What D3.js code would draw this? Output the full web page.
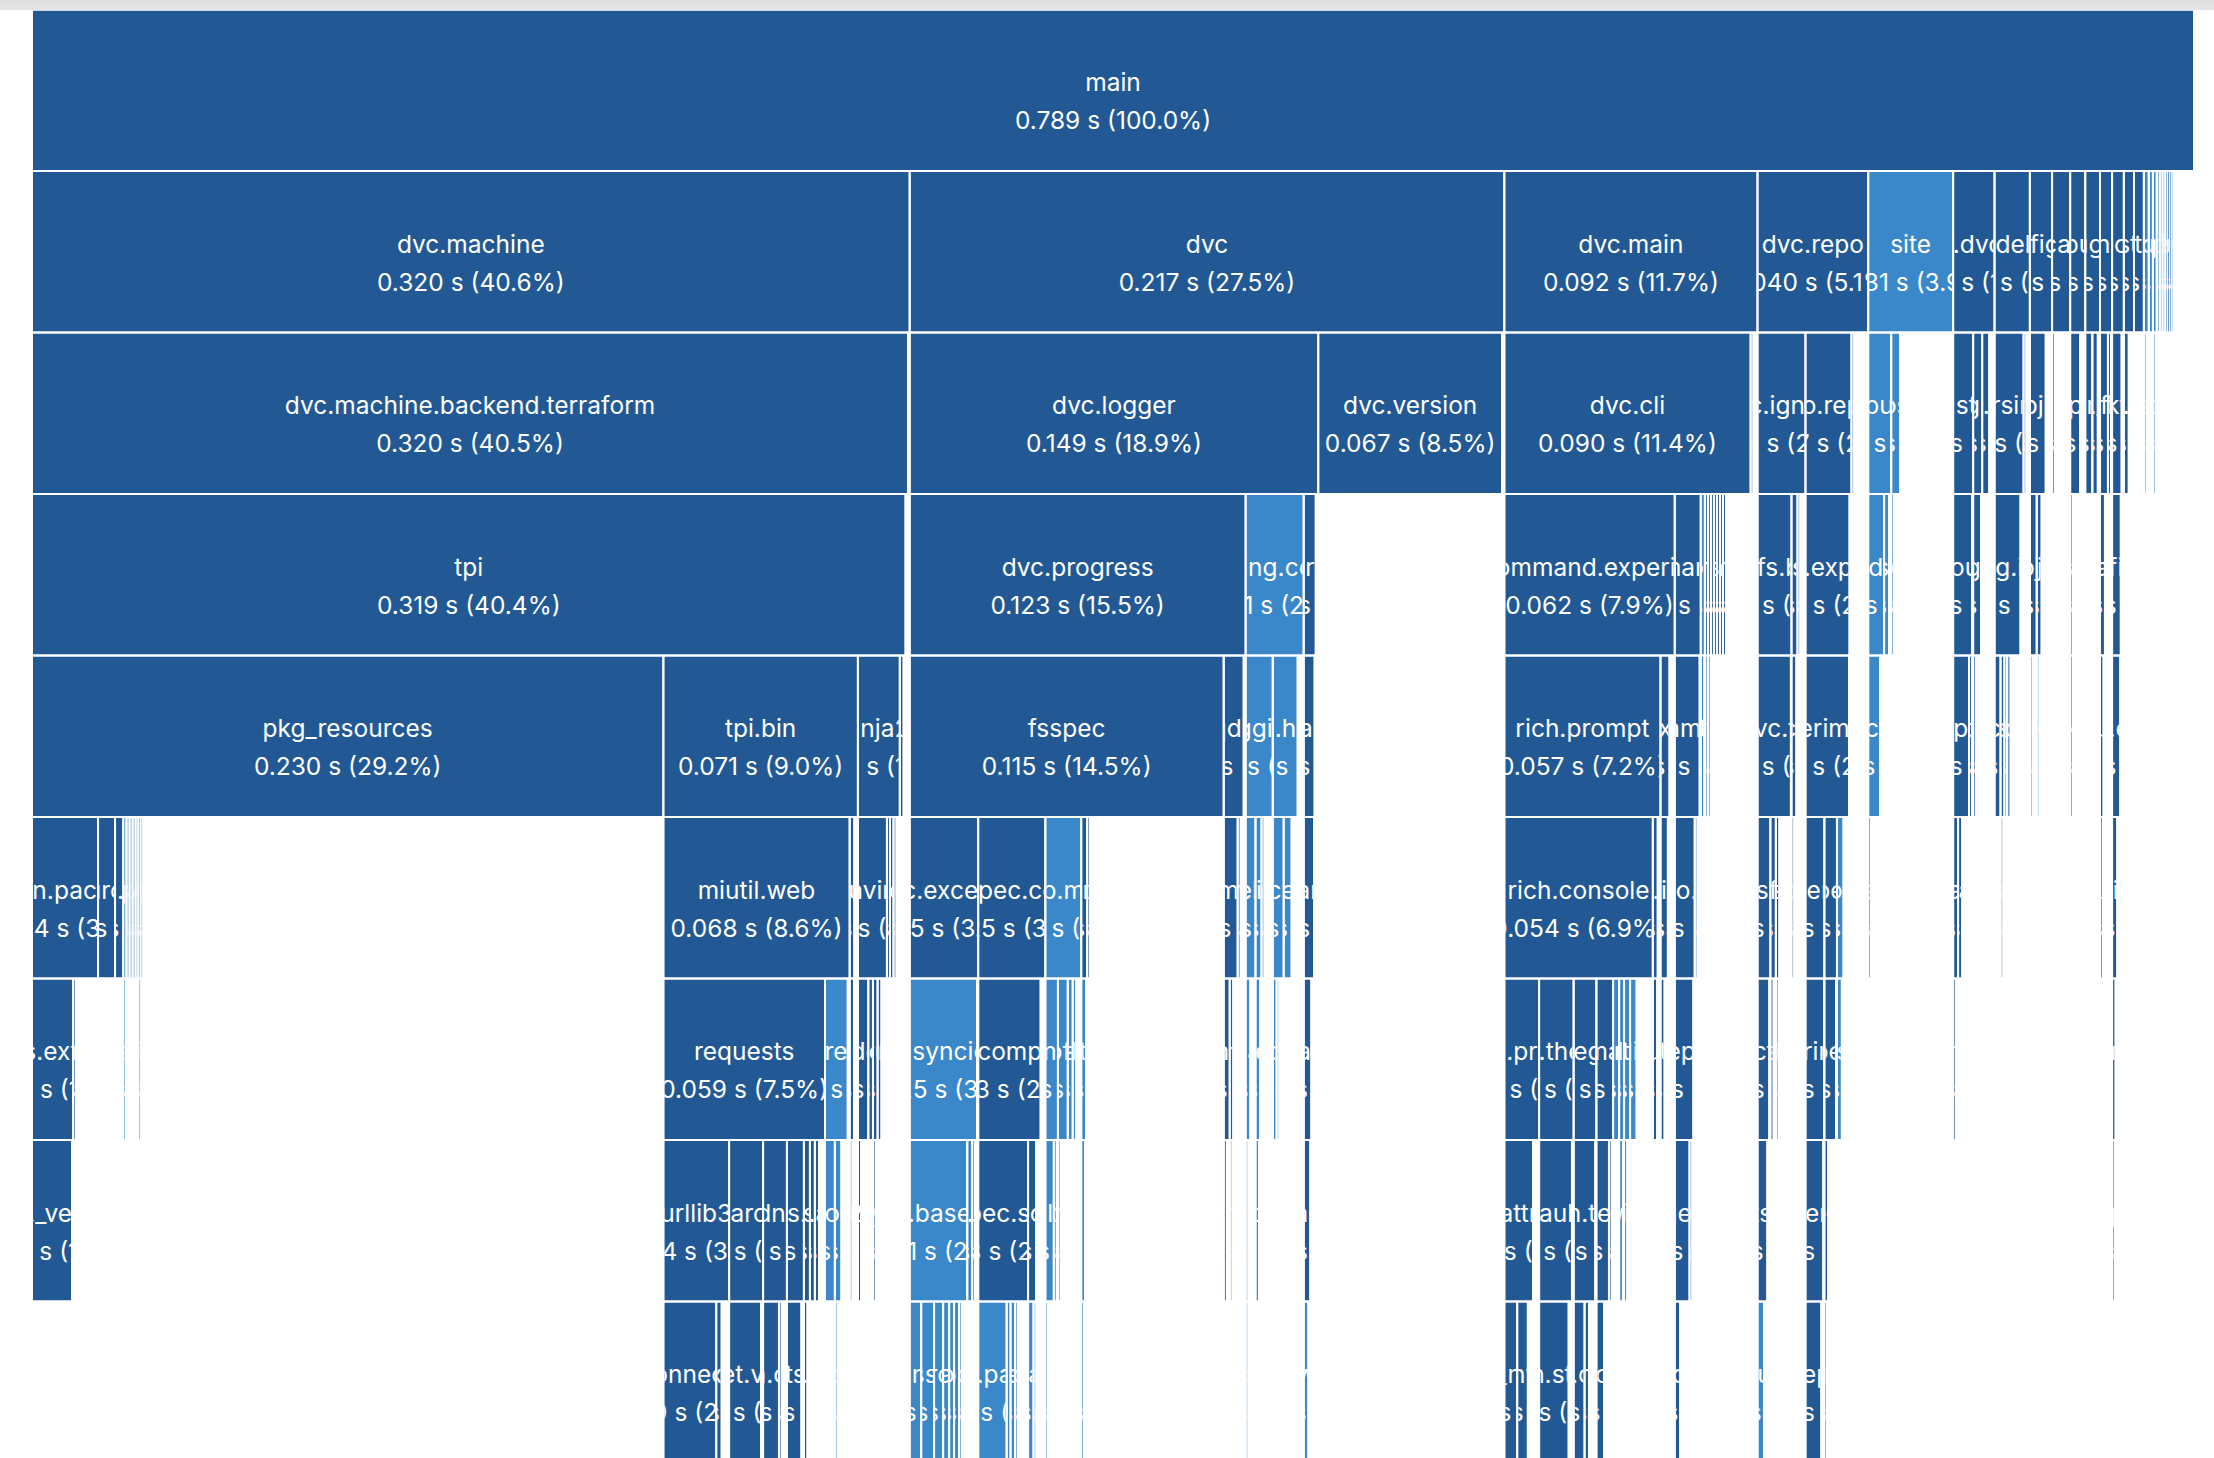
<!DOCTYPE html>
<html>
<head>
<meta charset="utf-8">
<script src="https://cdn.jsdelivr.net/npm/d3@7"></script>
<style>
  html, body { margin: 0; padding: 0; background: #fff; overflow: hidden; }
  text { font-family: Inter, "Open Sans", "DejaVu Sans", sans-serif; fill: #fff; }
</style>
</head>
<body>
<script>
// import profile (tuna style icicle): [module, imported by, cumulative seconds, D = third party / L = stdlib]
const rootName = "main";
const rootTime = 0.789;

const level1 = [
  ["dvc.machine", "main", 0.3203, "D"],
  ["dvc", "main", 0.2170, "D"],
  ["dvc.main", "main", 0.0924, "D"],
  ["dvc.repo", "main", 0.0404, "D"],
  ["site", "main", 0.0310, "L"],
  ["dvc.dvcfile", "main", 0.0151, "D"],
  ["dvc.model.collect", "main", 0.0129, "D"],
  ["configobj", "main", 0.0081, "D"],
  ["dvc.catalog", "main", 0.0066, "D"],
  ["dvc.output.layout", "main", 0.0055, "D"],
  ["pluggy", "main", 0.0054, "D"],
  ["grandalf", "main", 0.0044, "D"],
  ["zc.lockfile", "main", 0.0043, "D"],
  ["distro", "main", 0.0037, "D"],
  ["shtab", "main", 0.0036, "D"],
  ["json", "main", 0.0018, "L"],
  ["uuid", "main", 0.0015, "L"],
  ["tempfile", "main", 0.0014, "L"],
  ["getpass", "main", 0.0011, "L"],
  ["platform", "main", 0.0010, "L"],
  ["shlex", "main", 0.0009, "L"],
  ["ast", "main", 0.0008, "L"],
  ["psutil", "main", 0.0007, "D"],
  ["locale", "main", 0.0006, "L"],
  ["secrets", "main", 0.0006, "L"]
];

const level2 = [
  ["dvc.machine.backend.terraform", "dvc.machine", 0.3197, "D"],
  ["dvc.logger", "dvc", 0.1491, "D"],
  ["dvc.version", "dvc", 0.0671, "D"],
  ["dvc.cli", "dvc.main", 0.0899, "D"],
  ["dvc.cli.utils", "dvc.main", 0.0008, "D"],
  ["dvc.ignore", "dvc.repo", 0.0175, "D"],
  ["dvc.repo.reproduce", "dvc.repo", 0.0168, "D"],
  ["dvc.repo.scm_context", "dvc.repo", 0.0007, "D"],
  ["_sitebuiltins", "site", 0.0084, "L"],
  ["os", "site", 0.0033, "L"],
  ["dvc.stage", "dvc.dvcfile", 0.0073, "D"],
  ["dvc.stage.loader", "dvc.dvcfile", 0.0033, "D"],
  ["dvc.utils.serialize", "dvc.dvcfile", 0.0026, "D"],
  ["dvc.parsing.vars", "dvc.model.collect", 0.0106, "D"],
  ["dvc.parsing.context", "dvc.model.collect", 0.0007, "D"],
  ["configobj.validate", "configobj", 0.0058, "D"],
  ["dvc.catalog.base", "dvc.catalog", 0.0008, "D"],
  ["dvc.output.base", "dvc.output.layout", 0.0036, "D"],
  ["pluggy._manager", "pluggy", 0.0026, "D"],
  ["pluggy._hooks", "pluggy", 0.0020, "D"],
  ["grandalf.graphs", "grandalf", 0.0029, "D"],
  ["grandalf.layouts", "grandalf", 0.0011, "D"],
  ["zc.lockfile.api", "zc.lockfile", 0.0035, "D"],
  ["distro.distro", "distro", 0.0018, "D"],
  ["json.decoder", "json", 0.0007, "L"],
  ["random", "tempfile", 0.0008, "L"]
];

const level3 = [
  ["tpi", "dvc.machine.backend.terraform", 0.3188, "D"],
  ["dvc.progress", "dvc.logger", 0.1226, "D"],
  ["logging.config", "dvc.logger", 0.0212, "L"],
  ["colorama", "dvc.logger", 0.0044, "D"],
  ["dvc.command.experiments", "dvc.cli", 0.0622, "D"],
  ["dvc.command.imp_url", "dvc.cli", 0.0095, "D"],
  ["argparse", "dvc.cli", 0.0015, "L"],
  ["dvc.command.add", "dvc.cli", 0.0011, "D"],
  ["dvc.command.cache", "dvc.cli", 0.0011, "D"],
  ["dvc.command.check_ignore", "dvc.cli", 0.0011, "D"],
  ["dvc.command.commit", "dvc.cli", 0.0011, "D"],
  ["dvc.command.config", "dvc.cli", 0.0011, "D"],
  ["dvc.command.daemon", "dvc.cli", 0.0011, "D"],
  ["dvc.command.dag", "dvc.cli", 0.0011, "D"],
  ["dvc.fs.base", "dvc.ignore", 0.0124, "D"],
  ["pathspec", "dvc.ignore", 0.0022, "D"],
  ["dvc.pathspec_math", "dvc.ignore", 0.0010, "D"],
  ["dvc.repo.experiments", "dvc.repo.reproduce", 0.0161, "D"],
  ["pydoc", "_sitebuiltins", 0.0058, "L"],
  ["sitecustomize", "_sitebuiltins", 0.0018, "L"],
  ["posixpath", "os", 0.0011, "L"],
  ["dvc.output", "dvc.stage", 0.0069, "D"],
  ["dvc.stage.cache", "dvc.stage.loader", 0.0029, "D"],
  ["dvc.parsing.interpolate", "dvc.parsing.vars", 0.0095, "D"],
  ["configobj.compat", "configobj.validate", 0.0025, "D"],
  ["configobj._version", "configobj.validate", 0.0018, "D"],
  ["dvc.output.annotations", "dvc.output.base", 0.0010, "L"],
  ["grandalf.utils", "grandalf.graphs", 0.0018, "D"],
  ["zc.lockfile.base", "zc.lockfile.api", 0.0032, "D"]
];

const level4 = [
  ["pkg_resources", "tpi", 0.2304, "D"],
  ["tpi.bin", "tpi", 0.0710, "D"],
  ["jinja2", "tpi", 0.0153, "D"],
  ["tpi.utils", "tpi", 0.0014, "D"],
  ["fsspec", "dvc.progress", 0.1146, "D"],
  ["tqdm", "dvc.progress", 0.0073, "D"],
  ["logging", "logging.config", 0.0099, "L"],
  ["logging.handlers", "logging.config", 0.0091, "L"],
  ["colorama.initialise", "colorama", 0.0040, "D"],
  ["rich.prompt", "dvc.command.experiments", 0.0570, "D"],
  ["dvc.command.experiments.show", "dvc.command.experiments", 0.0033, "D"],
  ["dvc.command.imp", "dvc.command.imp_url", 0.0091, "D"],
  ["gettext", "argparse", 0.0013, "L"],
  ["dvc.command.base", "dvc.command.add", 0.0008, "D"],
  ["dvc.command.status", "dvc.command.cache", 0.0008, "D"],
  ["dvc.fs", "dvc.fs.base", 0.0122, "D"],
  ["pathspec.patterns", "pathspec", 0.0018, "D"],
  ["dvc.repo.experiments.executor", "dvc.repo.experiments", 0.0159, "D"],
  ["pydoc_data", "pydoc", 0.0044, "L"],
  ["dvc.output.meta", "dvc.output", 0.0058, "D"],
  ["dvc.output.hash", "dvc.output", 0.0011, "D"],
  ["dvc.stage.utils", "dvc.stage.cache", 0.0008, "D"],
  ["dvc.utils.collections", "dvc.parsing.interpolate", 0.0022, "D"],
  ["dvc.utils.flatten", "dvc.parsing.interpolate", 0.0014, "D"],
  ["dvc.utils.humanize", "dvc.parsing.interpolate", 0.0010, "D"],
  ["collections.abc", "dvc.parsing.interpolate", 0.0013, "L"],
  ["codecs", "configobj.compat", 0.0010, "L"],
  ["keyword2", "configobj._version", 0.0010, "L"],
  ["typing_extensions", "dvc.output.annotations", 0.0006, "L"],
  ["grandalf.utils.poset", "grandalf.utils", 0.0013, "D"],
  ["zc.lockfile.exceptions", "zc.lockfile.base", 0.0030, "D"]
];

const level5 = [
  ["pkg_resources.extern.packaging.requirements", "pkg_resources", 0.0241, "D"],
  ["pkg_resources.extern", "pkg_resources", 0.0062, "D"],
  ["pkg_resources.extern.appdirs", "pkg_resources", 0.0030, "D"],
  ["email.parser", "pkg_resources", 0.0012, "L"],
  ["plistlib", "pkg_resources", 0.0011, "L"],
  ["inspect", "pkg_resources", 0.0011, "L"],
  ["textwrap", "pkg_resources", 0.0011, "L"],
  ["sysconfig", "pkg_resources", 0.0010, "L"],
  ["ntpath", "pkg_resources", 0.0008, "L"],
  ["pkgutil", "pkg_resources", 0.0007, "L"],
  ["miutil.web", "tpi.bin", 0.0680, "D"],
  ["miutil", "tpi.bin", 0.0017, "D"],
  ["jinja2.environment", "jinja2", 0.0106, "D"],
  ["jinja2.filters", "jinja2", 0.0011, "D"],
  ["jinja2.loaders", "jinja2", 0.0013, "D"],
  ["jinja2.bccache", "jinja2", 0.0011, "D"],
  ["fsspec.exceptions", "fsspec", 0.0250, "D"],
  ["fsspec.core", "fsspec", 0.0245, "D"],
  ["importlib.metadata", "fsspec", 0.0131, "L"],
  ["fsspec.registry", "fsspec", 0.0022, "D"],
  ["fsspec.dircache", "fsspec", 0.0011, "D"],
  ["tqdm.std", "tqdm", 0.0051, "D"],
  ["tqdm.cli", "tqdm", 0.0011, "D"],
  ["traceback", "logging", 0.0036, "L"],
  ["string", "logging", 0.0022, "L"],
  ["weakref", "logging", 0.0011, "L"],
  ["socket", "logging.handlers", 0.0040, "L"],
  ["queue", "logging.handlers", 0.0029, "L"],
  ["colorama.ansitowin32", "colorama.initialise", 0.0038, "D"],
  ["rich.console", "rich.prompt", 0.0542, "D"],
  ["rich.abc", "rich.prompt", 0.0018, "D"],
  ["dvc.ui.table", "dvc.command.experiments.show", 0.0027, "D"],
  ["dvc.repo.imp_url", "dvc.command.imp", 0.0073, "D"],
  ["dvc.utils.cli_parse", "dvc.command.imp", 0.0010, "D"],
  ["dvc.fs.local", "dvc.fs", 0.0047, "D"],
  ["dvc.fs.git", "dvc.fs", 0.0020, "D"],
  ["dvc.fs.data", "dvc.fs", 0.0013, "D"],
  ["pathspec.util", "pathspec.patterns", 0.0006, "D"],
  ["dvc.repo.experiments.executor.base", "dvc.repo.experiments.executor", 0.0069, "D"],
  ["dvc.repo.experiments.refs", "dvc.repo.experiments.executor", 0.0046, "D"],
  ["multiprocessing", "dvc.repo.experiments.executor", 0.0024, "L"],
  ["pydoc_data.topics", "pydoc_data", 0.0006, "L"],
  ["dvc_data.hashfile.meta", "dvc.output.meta", 0.0018, "D"],
  ["dvc_data.hashfile.tree", "dvc.output.meta", 0.0015, "D"],
  ["dvc.utils.objects", "dvc.utils.flatten", 0.0009, "D"],
  ["grandalf.utils.linalg", "grandalf.utils.poset", 0.0006, "D"],
  ["zc.lockfile.posix", "zc.lockfile.exceptions", 0.0019, "D"]
];

const level6 = [
  ["pkg_resources.extern.pyparsing", "pkg_resources.extern.packaging.requirements", 0.0150, "D"],
  ["pkg_resources.extern.packaging.markers", "pkg_resources.extern.packaging.requirements", 0.0007, "D"],
  ["email.feedparser", "email.parser", 0.0009, "L"],
  ["genericpath", "ntpath", 0.0005, "L"],
  ["requests", "miutil.web", 0.0590, "D"],
  ["urllib.request", "miutil.web", 0.0083, "L"],
  ["miutil.fdio", "miutil", 0.0016, "D"],
  ["jinja2.defaults", "jinja2.environment", 0.0038, "D"],
  ["jinja2.compiler", "jinja2.environment", 0.0017, "D"],
  ["jinja2.runtime", "jinja2.environment", 0.0017, "D"],
  ["jinja2.nodes", "jinja2.environment", 0.0014, "D"],
  ["asyncio", "fsspec.exceptions", 0.0246, "L"],
  ["fsspec.compression", "fsspec.core", 0.0228, "D"],
  ["email", "importlib.metadata", 0.0046, "L"],
  ["zipfile", "importlib.metadata", 0.0036, "L"],
  ["csv", "importlib.metadata", 0.0018, "L"],
  ["pathlib", "importlib.metadata", 0.0013, "L"],
  ["importlib.util", "fsspec.registry", 0.0018, "L"],
  ["tqdm.utils", "tqdm.std", 0.0022, "D"],
  ["tqdm._monitor", "tqdm.std", 0.0013, "D"],
  ["linecache", "traceback", 0.0017, "L"],
  ["re", "string", 0.0017, "L"],
  ["selectors", "socket", 0.0014, "L"],
  ["array", "socket", 0.0010, "L"],
  ["colorama.winterm", "colorama.ansitowin32", 0.0028, "D"],
  ["rich.pretty", "rich.console", 0.0127, "D"],
  ["rich.theme", "rich.console", 0.0126, "D"],
  ["rich.segment", "rich.console", 0.0083, "D"],
  ["rich.markup", "rich.console", 0.0061, "D"],
  ["html", "rich.console", 0.0022, "L"],
  ["dataclasses", "rich.console", 0.0018, "L"],
  ["fractions", "rich.console", 0.0022, "L"],
  ["zlib", "rich.console", 0.0024, "L"],
  ["rich.jupyter", "rich.abc", 0.0016, "D"],
  ["rich.table", "dvc.ui.table", 0.0015, "D"],
  ["dvc.repo.imp", "dvc.repo.imp_url", 0.0068, "D"],
  ["dvc_objects.fs.local", "dvc.fs.local", 0.0043, "D"],
  ["scmrepo.fs", "dvc.fs.git", 0.0012, "D"],
  ["dvc_data.fs", "dvc.fs.data", 0.0010, "D"],
  ["dvc.repo.experiments.serialize", "dvc.repo.experiments.executor.base", 0.0068, "D"],
  ["dvc.repo.experiments.utils", "dvc.repo.experiments.refs", 0.0043, "D"],
  ["multiprocessing.context", "multiprocessing", 0.0018, "L"],
  ["dvc_data.hashfile.hash_info", "dvc_data.hashfile.meta", 0.0010, "D"],
  ["fcntl", "zc.lockfile.posix", 0.0013, "D"]
];

const level7 = [
  ["pkg_resources._vendor.pyparsing", "pkg_resources.extern.pyparsing", 0.0146, "D"],
  ["urllib3", "requests", 0.0240, "D"],
  ["chardet", "requests", 0.0124, "D"],
  ["idna", "requests", 0.0087, "D"],
  ["requests.models", "requests", 0.0062, "D"],
  ["requests.api", "requests", 0.0022, "D"],
  ["requests.sessions", "requests", 0.0018, "D"],
  ["requests.status_codes", "requests", 0.0015, "D"],
  ["http.client", "urllib.request", 0.0036, "L"],
  ["http.cookiejar", "urllib.request", 0.0024, "L"],
  ["miutil.fdio.base", "miutil.fdio", 0.0010, "D"],
  ["jinja2.utils", "jinja2.defaults", 0.0012, "D"],
  ["jinja2.async_utils", "jinja2.runtime", 0.0010, "D"],
  ["asyncio.base_events", "asyncio", 0.0210, "L"],
  ["asyncio.runners", "asyncio", 0.0018, "L"],
  ["asyncio.streams", "asyncio", 0.0011, "L"],
  ["fsspec.spec", "fsspec.compression", 0.0182, "D"],
  ["fsspec.utils", "fsspec.compression", 0.0029, "D"],
  ["email.utils", "email", 0.0031, "L"],
  ["email.charset", "email", 0.0011, "L"],
  ["lzma", "zipfile", 0.0010, "L"],
  ["importlib._abc", "importlib.util", 0.0014, "L"],
  ["signal", "tqdm.utils", 0.0012, "L"],
  ["sched", "tqdm._monitor", 0.0006, "L"],
  ["tokenize", "linecache", 0.0009, "L"],
  ["sre_compile", "re", 0.0013, "L"],
  ["colorama.win32", "colorama.winterm", 0.0024, "D"],
  ["attr", "rich.pretty", 0.0105, "D"],
  ["rich.default_styles", "rich.theme", 0.0120, "D"],
  ["rich.text", "rich.segment", 0.0079, "D"],
  ["rich.emoji", "rich.markup", 0.0046, "D"],
  ["rich._emoji_replace", "rich.markup", 0.0010, "D"],
  ["keyword", "dataclasses", 0.0014, "L"],
  ["decimal", "fractions", 0.0012, "L"],
  ["dvc.stage.imports", "dvc.repo.imp", 0.0054, "D"],
  ["dvc.dependency", "dvc.repo.imp", 0.0010, "D"],
  ["dvc_objects.fs.system", "dvc_objects.fs.local", 0.0036, "D"],
  ["dvc.repo.experiments.stash", "dvc.repo.experiments.serialize", 0.0065, "D"],
  ["dvc.repo.experiments.cache", "dvc.repo.experiments.utils", 0.0014, "D"],
  ["ctypes", "fcntl", 0.0006, "L"]
];

const level8 = [
  ["urllib3.connectionpool", "urllib3", 0.0193, "D"],
  ["urllib3.exceptions", "urllib3", 0.0020, "D"],
  ["chardet.version", "chardet", 0.0117, "D"],
  ["idna.core", "idna", 0.0058, "D"],
  ["idna.idnadata", "idna", 0.0010, "D"],
  ["requests.hooks", "requests.models", 0.0053, "D"],
  ["requests.adapters", "requests.api", 0.0013, "D"],
  ["http.cookies", "http.cookiejar", 0.0006, "L"],
  ["concurrent.futures", "asyncio.base_events", 0.0042, "L"],
  ["ssl", "asyncio.base_events", 0.0047, "L"],
  ["subprocess", "asyncio.base_events", 0.0033, "L"],
  ["heapq", "asyncio.base_events", 0.0022, "L"],
  ["asyncio.events", "asyncio.base_events", 0.0018, "L"],
  ["asyncio.futures", "asyncio.base_events", 0.0018, "L"],
  ["asyncio.tasks", "asyncio.base_events", 0.0007, "L"],
  ["html.parser", "fsspec.spec", 0.0104, "L"],
  ["hashlib", "fsspec.spec", 0.0014, "L"],
  ["contextlib", "fsspec.spec", 0.0017, "L"],
  ["io", "fsspec.spec", 0.0007, "L"],
  ["fnmatch", "fsspec.utils", 0.0020, "L"],
  ["math", "fsspec.utils", 0.0008, "L"],
  ["email.errors", "email.utils", 0.0010, "L"],
  ["importlib.abc", "importlib._abc", 0.0006, "L"],
  ["token", "tokenize", 0.0008, "L"],
  ["ctypes.wintypes", "colorama.win32", 0.0017, "L"],
  ["attr._make", "attr", 0.0047, "D"],
  ["attr.converters", "attr", 0.0039, "D"],
  ["rich.style", "rich.default_styles", 0.0108, "D"],
  ["rich.cells", "rich.text", 0.0040, "D"],
  ["rich.containers", "rich.text", 0.0016, "D"],
  ["rich._emoji_codes", "rich.emoji", 0.0028, "D"],
  ["dvc.dependency.base", "dvc.stage.imports", 0.0020, "D"],
  ["shutil", "dvc_objects.fs.system", 0.0024, "L"],
  ["scmrepo.git", "dvc.repo.experiments.stash", 0.0058, "D"],
  ["dvc.repo.experiments.collect", "dvc.repo.experiments.cache", 0.0010, "D"]
];

const kindColor = { D: "#225994", L: "#3a87c9" };

const W = 2214, H = 1458;
const rowStep = 161.5;

const rows = [[rootName, null, rootTime, "D"]]
  .concat(level1, level2, level3, level4, level5, level6, level7, level8)
  .map(([name, parent, time, kind]) => ({ name, parent, time, kind }));

const root = d3.stratify().id(d => d.name).parentId(d => d.parent)(rows);
// self time = cumulative minus what the children took, so the partition leaves it blank
root.sum(d => {
  const kids = rows.filter(r => r.parent === d.name);
  return Math.max(0, d.time - d3.sum(kids, k => k.time));
});
d3.partition().size([rootTime, 1])(root);

const x = d3.scaleLinear().domain([0, rootTime]).range([32, 2194]);
const y = d3.scaleLinear().domain([0, 1]).range([9.5, 9.5 + rowStep]);

const svg = d3.select("body").append("svg")
  .attr("width", W)
  .attr("height", H);

// grey strip at the very top of the page
const grad = svg.append("defs").append("linearGradient")
  .attr("id", "topband").attr("x1", 0).attr("x2", 0).attr("y1", 0).attr("y2", 1);
grad.append("stop").attr("offset", "0%").attr("stop-color", "#dedede");
grad.append("stop").attr("offset", "100%").attr("stop-color", "#e6e6e6");
svg.append("rect").attr("x", 0).attr("y", 0).attr("width", W).attr("height", 10)
  .attr("fill", "url(#topband)");

const cellW = d => Math.max(x(d.x1) - x(d.x0) - 2, 0.8);

const cells = svg.selectAll("svg.cell")
  .data(root.descendants())
  .join("svg")
  .attr("class", "cell")
  .attr("x", d => x(d.x0) + 1)
  .attr("y", d => y(d.depth) + 1)
  .attr("width", cellW)
  .attr("height", rowStep - 2);

cells.append("rect")
  .attr("width", "100%")
  .attr("height", "100%")
  .attr("fill", d => kindColor[d.data.kind]);

const label = cells.append("text")
  .attr("text-anchor", "middle")
  .attr("font-size", 24.5)
  .attr("x", d => cellW(d) / 2);

label.append("tspan")
  .attr("y", (rowStep - 2) / 2 + 1)
  .text(d => d.data.name);

label.append("tspan")
  .attr("x", d => cellW(d) / 2)
  .attr("y", (rowStep - 2) / 2 + 39)
  .text(d => `${d.data.time.toFixed(3)} s (${(100 * d.data.time / rootTime).toFixed(1)}%)`);
</script>
</body>
</html>
